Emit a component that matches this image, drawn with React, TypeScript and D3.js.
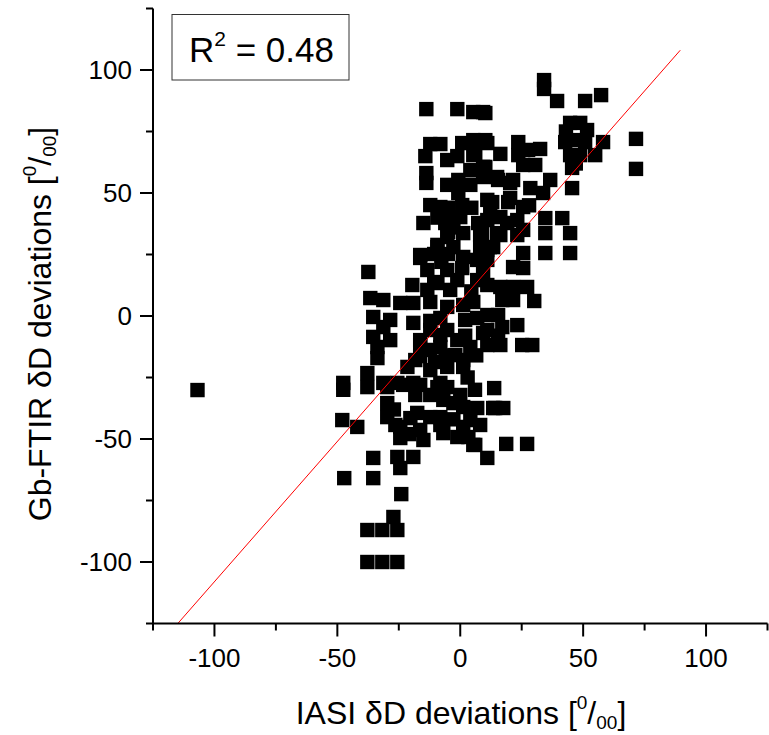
import React from "react";
import * as d3 from "d3";

const xTicks = [-100, -50, 0, 50, 100];
const yTicks = [-100, -50, 0, 50, 100];
const minorTicks = [-125, -75, -25, 25, 75, 125];
const fitSlope = 1.14;
const fitIntercept = 6;
const fitRange = [-115, 89.5];
const r2Label = "0.48";

// IASI deviations (x) and Gb-FTIR deviations (y), per mille
const iasi = [
  -13.8, -1.2, 5.3, 9.3, -12.2, -8.1, -14.2, 0.8, 5.3, 9.3, -1.2, 5.3, 9.3, 9.3, -13.8, -13.8, -0.8, -0.8, 0.8, 11.0,
  -12.2, -8.1, -15.0, -6.1, -4.9, 0, 7.3, 8.9,
  34.1, 34.1, 39.4, 50.8, 57.3, 10.2, 44.7, 48.8, 42.7, 47.6, 50.8, 44.7, 48.8, 45.5, 58.1, 54.9, 71.5, 71.5, 10.2, 16.3,
  23.6, 27.6, 32.5, 23.6, 25.6, 30.5, 36.6, 45.5, 10.2, 15.4, 21.5, 28.5, 33.7, 13.0, 19.5, 25.6, 11.0, 16.3, 23.2, 25.6,
  15.0, 34.6, 41.5, 34.6, 44.7,
  -37.4, -16.3, -9.3, -5.3, 1.2, 8.1, -13.4, -5.3, -9.3, -1.2, 6.9, 11.0, 6.9, 1.2, -36.6, -31.3, -24.4, -19.1, -35.4, -28.5,
  -35.4, -28.5, -33.7, -12.2, -5.3, 1.2, -19.1, -12.2, -5.3, -1.2, 4.1, -12.2, 5.3, 6.9, 9.3, -47.6, -37.8, -21.5, -12.2, -5.3,
  1.2, -19.1, -8.1, -25.6, -31.3,
  16.3, 23.2, 34.6, 44.7, 25.6, 21.5, 25.6, 11.0, 11.0, 16.3, 21.5, 27.2, 17.1, 21.5, 30.1, 11.0, 15.4, 17.1, 23.2, 11.0,
  11.0, 16.3, 25.2, 29.3, 13.8,
  -37.8, -29.7, -23.2, -16.3, -9.3, -5.3, -29.7, -29.7, -24.4, -24.4, -17.5, -16.3, -15.0, -12.2, -6.9, -6.9, -1.2, -2.8, 1.2, 6.9,
  13.4, 1.2, 3.3, 5.3, 11.0, -48.0, -41.9, -35.4, -25.6, -19.1, -24.4, -47.2, -35.4, -24.0, -27.2, -37.8, -31.7, -25.6, -37.8, -31.7,
  -25.6,
  14.2, 17.5, 6.1, 18.7, 27.2,
  6.1, 11.0, 15.0, 20.3, -4.1, 12.2, 19.1, -9.3, -2.8, -16.3, 8.1, 13.4,
  -106.9, -47.6, -4.1, 2.0, -8.1, -16.3, -2.0, -18.3,
  -10.6, -4.9, 0.8, -10.6, 4.5, -31.3, -33.7, -12.2, -8.1, 2.0, -16.3, -20.7, -8.1, -2.8, -27.0, 20.3, 28.0, 43.0, 47.0, -4.9,
  4.5, -2.8, -9.3, 9.3, 12.0, 15.4, 6.5, 3.0, -6.0, 6.0,
  -13.4, -7.7, -19.5, -8.1, -16.3, 1.2, -10.2, -18.3, -12.2, 0, -8.1, -20.3, -26.4, 4.1, 8.1, -5.3, -5.3, 4.1, 4.1, 51.6,
];
const ftir = [
  84.1, 84.1, 82.9, 82.9, 69.9, 69.9, 65.0, 70.3, 71.5, 70.7, 65.0, 65.4, 60.6, 56.5, 58.1, 54.1, 55.3, 50.0, 45.1, 47.2,
  45.1, 44.3, 37.8, 37.8, 34.1, 40.2, 37.8, 33.7,
  95.9, 92.3, 87.4, 87.4, 89.8, 82.5, 78.5, 78.5, 70.7, 71.5, 70.7, 65.4, 65.4, 60.2, 70.7, 65.4, 72.0, 59.8, 71.5, 65.9,
  70.7, 67.5, 67.9, 65.4, 61.4, 61.4, 55.3, 52.0, 60.6, 55.3, 55.3, 52.0, 50.0, 46.3, 46.3, 44.3, 39.0, 40.2, 39.0, 35.0,
  33.7, 39.8, 39.8, 33.7, 33.7,
  17.9, 23.6, 28.9, 32.1, 33.7, 32.9, 18.7, 18.7, 13.4, 14.6, 14.6, 26.8, 22.8, 24.0, 7.3, 6.5, 5.3, 5.3, -0.4, -1.6,
  -8.5, -9.8, -17.1, 5.7, 3.7, 4.5, -2.8, -5.7, -5.7, -9.8, -12.6, -13.8, 5.7, -0.8, -6.9, -27.2, -23.2, -20.7, -22.0, -20.7,
  -20.7, -27.2, -27.2, -27.2, -27.2,
  32.9, 32.9, 25.6, 25.6, 25.6, 19.9, 19.5, 22.8, 12.6, 11.8, 11.8, 11.8, 6.5, 6.5, 6.1, 0.4, 0.4, -4.5, -3.7, -5.7,
  -11.8, -11.8, -11.8, -11.8, -29.3,
  -28.9, -28.9, -28.0, -28.0, -28.9, -28.9, -35.4, -41.1, -45.1, -49.6, -39.4, -46.3, -50.4, -41.1, -34.1, -47.6, -49.2, -35.4, -37.0, -37.4,
  -37.4, -45.1, -49.2, -52.4, -57.7, -42.3, -45.1, -57.7, -57.3, -57.3, -61.8, -65.9, -65.9, -72.4, -81.7, -87.0, -87.0, -87.0, -100, -100,
  -100,
  -37.4, -37.4, -52.4, -52.0, -52.0,
  66.3, 70.3, 56.5, 54.1, 39.0, 44.3, 37.8, 28.0, 28.0, 24.8, 28.0, 28.0,
  -30.1, -30.0, 10.6, -1.6, -0.8, -9.8, -15.9, -17.9,
  25.2, 25.2, 19.5, 13.8, 10.0, -4.5, -12.6, -2.0, -12.6, -8.0, -16.3, -48.0, -41.1, -42.0, -38.0, 48.0, 45.0, 75.0, 62.0, 44.0,
  44.0, 36.0, 40.0, 17.0, 28.0, -8.0, -16.0, -25.0, -16.0, -30.0,
  10.6, 22.0, 12.6, -7.7, -11.8, -17.9, -18.7, -32.1, -32.1, -32.1, -44.3, -41.5, -44.3, -42.3, -44.3, 63.4, 53.3, 53.3, 59.3, 75.6,
];

const W = 769;
const H = 735;
const left = 153;
const right = 767.5;
const top = 8.5;
const bottom = 623.5;
const font = "Liberation Sans, Arial, sans-serif";

export default function App() {
  const x = d3.scaleLinear().domain([-125, 125]).range([left, right]);
  const y = d3.scaleLinear().domain([-125, 125]).range([bottom, top]);
  const pts = d3.zip(iasi, ftir);
  const sq = 14.4;
  return (
    <svg width={W} height={H} style={{ position: "absolute", left: 0, top: 0, background: "#fff" }} fontFamily={font}>
      <rect x={0} y={0} width={W} height={H} fill="#fff" />
      {pts.map(([a, b], i) => (
        <rect key={i} x={x(a) - sq / 2} y={y(b) - sq / 2} width={sq} height={sq} fill="#000" />
      ))}
      <line
        x1={x(fitRange[0])}
        y1={y(fitSlope * fitRange[0] + fitIntercept)}
        x2={x(fitRange[1])}
        y2={y(fitSlope * fitRange[1] + fitIntercept)}
        stroke="#ff0000"
        strokeWidth={1}
      />
      {/* axes */}
      <line x1={left} y1={top} x2={left} y2={bottom + 1} stroke="#000" strokeWidth={2} />
      <line x1={left - 1} y1={bottom} x2={right} y2={bottom} stroke="#000" strokeWidth={2} />
      {xTicks.map((t) => (
        <g key={"xt" + t}>
          <line x1={x(t)} y1={bottom} x2={x(t)} y2={bottom + 13} stroke="#000" strokeWidth={2} />
          <text x={x(t)} y={667} textAnchor="middle" fontSize={26}>
            {t}
          </text>
        </g>
      ))}
      {minorTicks.map((t) => (
        <line key={"xm" + t} x1={x(t)} y1={bottom} x2={x(t)} y2={bottom + 7} stroke="#000" strokeWidth={2} />
      ))}
      {yTicks.map((t) => (
        <g key={"yt" + t}>
          <line x1={left} y1={y(t)} x2={left - 13} y2={y(t)} stroke="#000" strokeWidth={2} />
          <text x={132} y={y(t) + 9} textAnchor="end" fontSize={26}>
            {t}
          </text>
        </g>
      ))}
      {minorTicks.map((t) => (
        <line key={"ym" + t} x1={left} y1={y(t)} x2={left - 7} y2={y(t)} stroke="#000" strokeWidth={2} />
      ))}
      {/* R2 box */}
      <rect x={172} y={14.5} width={177} height={65.5} fill="#fff" stroke="#333" strokeWidth={1} />
      <text x={189} y={62} fontSize={35}>
        R<tspan fontSize={21} dy={-16}>2</tspan>
        <tspan dy={16}> = {r2Label}</tspan>
      </text>
      {/* axis titles */}
      <text x={461} y={724} textAnchor="middle" fontSize={32}>
        IASI δD deviations [<tspan fontSize={19} dy={-15}>0</tspan>
        <tspan dy={15}>/</tspan>
        <tspan fontSize={19} dy={5}>00</tspan>
        <tspan dy={-5}>]</tspan>
      </text>
      <text transform={`translate(51,${324}) rotate(-90)`} textAnchor="middle" fontSize={32}>
        Gb-FTIR δD deviations [<tspan fontSize={19} dy={-15}>0</tspan>
        <tspan dy={15}>/</tspan>
        <tspan fontSize={19} dy={5}>00</tspan>
        <tspan dy={-5}>]</tspan>
      </text>
    </svg>
  );
}
